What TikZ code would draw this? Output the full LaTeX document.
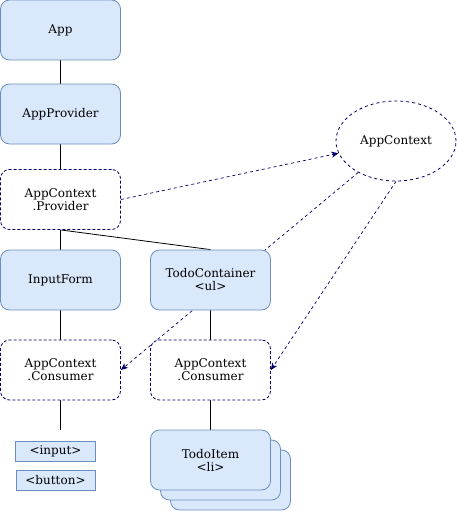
\documentclass[tikz,border=0pt]{standalone}
\usepackage{fontspec}
\setmainfont{DejaVu Serif}
\usepackage{tikz}
\usetikzlibrary{shapes.geometric,arrows.meta,backgrounds}

\definecolor{boxfill}{HTML}{DAE8FC}
\definecolor{boxline}{HTML}{6C8EBF}
\definecolor{ctxline}{HTML}{000066}

\tikzset{
  comp/.style={draw=boxline, fill=boxfill, rounded corners=9pt, line width=0.8pt,
    minimum width=120pt, minimum height=60pt, inner sep=0pt, align=center, font=\fontsize{12}{13}\selectfont},
  ctxbox/.style={comp, draw=ctxline, fill=white, dash pattern=on 3pt off 2pt},
  tag/.style={draw=boxline, fill=boxfill, line width=0.8pt, minimum height=20pt,
    inner sep=0pt, font=\fontsize{12}{13}\selectfont},
  tree/.style={line width=0.8pt},
  ctxarrow/.style={draw=ctxline, line width=0.7pt, dash pattern=on 3pt off 3pt,
    -{Stealth[length=7pt,width=6pt,inset=2pt]}}
}

\begin{document}
\begin{tikzpicture}[x=1pt,y=-1pt]
\useasboundingbox (0,0) rectangle (456,511);

% Components
\node[comp] (app) at (60.5,30) {App};
\node[comp] (appprov) at (60.5,114) {AppProvider};
\node[ctxbox] (prov) at (60.5,199.5) {AppContext\\.Provider};
\node[comp] (form) at (60.5,280) {InputForm};
\node[comp] (todos) at (210.5,280) {TodoContainer\\<ul>};
\node[ctxbox] (consL) at (60.5,370) {AppContext\\.Consumer};
\node[ctxbox] (consR) at (210.5,370) {AppContext\\.Consumer};

% Stacked items
\node[comp] (item3) at (230.5,480) {};
\node[comp] (item2) at (220.5,470) {};
\node[comp] (item) at (210.5,460) {TodoItem\\<li>};

% Tags
\node[tag, minimum width=80pt] (input) at (55.5,451) {<input>};
\node[tag, minimum width=79pt] (button) at (55.5,480) {<button>};
\coordinate (formend) at (60.5,430);

% Context
\node[draw=ctxline, dash pattern=on 3pt off 3pt, line width=0.8pt, ellipse,
  minimum width=120pt, minimum height=80pt, font=\fontsize{12}{13}\selectfont] (ctx) at (396,141) {AppContext};

\begin{scope}[on background layer]
% Tree
\draw[tree] (app) -- (appprov);
\draw[tree] (appprov) -- (prov);
\draw[tree] (prov) -- (form);
\draw[tree] (prov.south) -- (todos.north);
\draw[tree] (form) -- (consL);
\draw[tree] (todos) -- (consR);
\draw[tree] (consL) -- (formend);
\draw[tree] (consR) -- (item);

% Context links
\draw[ctxarrow] (prov.east) -- (ctx);
\draw[ctxarrow] (ctx) -- (consL.east);
\draw[ctxarrow] (ctx.south) -- (consR.east);
\end{scope}
\end{tikzpicture}
\end{document}
